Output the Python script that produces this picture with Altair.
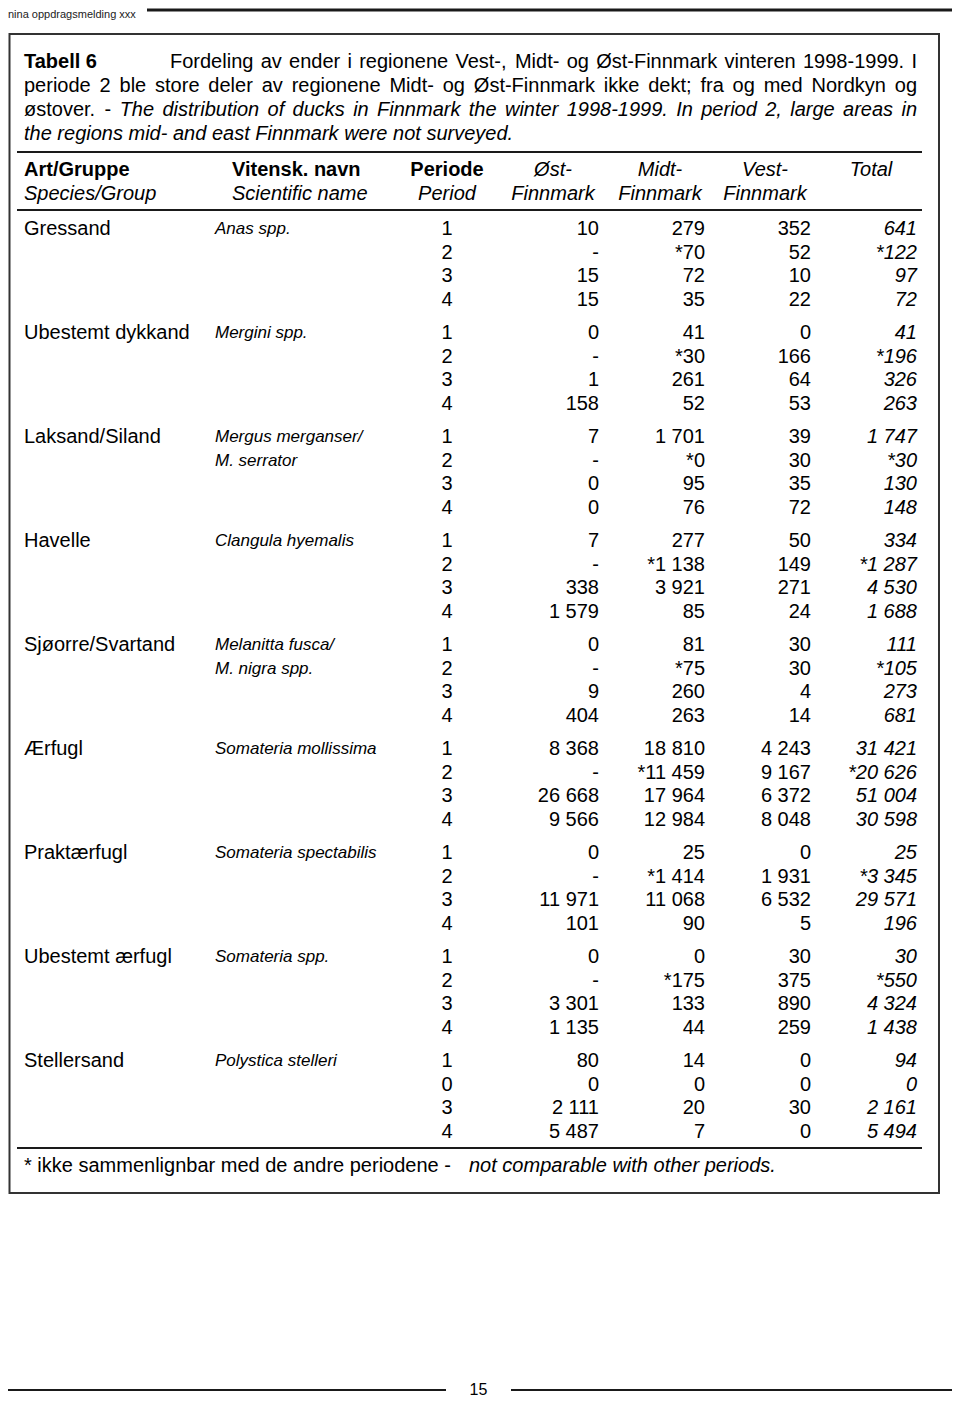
import altair as alt
import pandas as pd

# ---------------- data ----------------
groups = ["Gressand", "Ubestemt dykkand", "Laksand/Siland", "Havelle",
          "Sjøorre/Svartand", "Ærfugl", "Praktærfugl", "Ubestemt ærfugl", "Stellersand"]
sci_names = ["Anas spp.", "Mergini spp.", "Mergus merganser/\nM. serrator",
             "Clangula hyemalis", "Melanitta fusca/\nM. nigra spp.",
             "Somateria mollissima", "Somateria spectabilis", "Somateria spp.",
             "Polystica stelleri"]
periods = [["1", "2", "3", "4"]] * 8 + [["1", "0", "3", "4"]]
ost = [["10", "-", "15", "15"], ["0", "-", "1", "158"], ["7", "-", "0", "0"],
       ["7", "-", "338", "1 579"], ["0", "-", "9", "404"],
       ["8 368", "-", "26 668", "9 566"], ["0", "-", "11 971", "101"],
       ["0", "-", "3 301", "1 135"], ["80", "0", "2 111", "5 487"]]
midt = [["279", "*70", "72", "35"], ["41", "*30", "261", "52"],
        ["1 701", "*0", "95", "76"], ["277", "*1 138", "3 921", "85"],
        ["81", "*75", "260", "263"], ["18 810", "*11 459", "17 964", "12 984"],
        ["25", "*1 414", "11 068", "90"], ["0", "*175", "133", "44"],
        ["14", "0", "20", "7"]]
vest = [["352", "52", "10", "22"], ["0", "166", "64", "53"], ["39", "30", "35", "72"],
        ["50", "149", "271", "24"], ["30", "30", "4", "14"],
        ["4 243", "9 167", "6 372", "8 048"], ["0", "1 931", "6 532", "5"],
        ["30", "375", "890", "259"], ["0", "0", "30", "0"]]
total = [["641", "*122", "97", "72"], ["41", "*196", "326", "263"],
         ["1 747", "*30", "130", "148"], ["334", "*1 287", "4 530", "1 688"],
         ["111", "*105", "273", "681"], ["31 421", "*20 626", "51 004", "30 598"],
         ["25", "*3 345", "29 571", "196"], ["30", "*550", "4 324", "1 438"],
         ["94", "0", "2 161", "5 494"]]

page_header = "nina oppdragsmelding xxx"
caption_label = "Tabell 6"
caption_l1 = "Fordeling av ender i regionene Vest-, Midt- og Øst-Finnmark vinteren 1998-1999. I"
caption_l2 = "periode 2 ble store deler av regionene Midt- og Øst-Finnmark ikke dekt; fra og med Nordkyn og"
caption_l3 = "østover. - The distribution of ducks in Finnmark the winter 1998-1999. In period 2, large areas in"
caption_l3_regular_words = 2
caption_l4 = "the regions mid- and east Finnmark were not surveyed."
head_bold = ["Art/Gruppe", "Vitensk. navn"]
head_ital = ["Species/Group", "Scientific name"]
head_period = ["Periode", "Period"]
head_regions = [["Øst-", "Finnmark"], ["Midt-", "Finnmark"], ["Vest-", "Finnmark"], ["Total", ""]]
footnote_a = "* ikke sammenlignbar med de andre periodene -"
footnote_b = "not comparable with other periods."
page_number = "15"

# ---------------- layout ----------------
FONT = "Liberation Sans, Arial, Helvetica, sans-serif"
X_GROUP, X_SCI, X_PER = 24, 215, 447
X_NUM = [599, 705, 811, 917]
X_HEAD = [553, 660, 765, 871]
Y0, GROUP_STEP, ROW_STEP = 229, 104, 23.7
CAP_SIZE = 20
CAP_RIGHT = 917

# Arial / Liberation Sans advance widths (per 1000 em) for justification
W = {" ": 278, ",": 278, "-": 333, ".": 278, ";": 278, "/": 278,
     "A": 667, "B": 667, "C": 722, "D": 722, "E": 667, "F": 611, "G": 778, "H": 722,
     "I": 278, "J": 500, "K": 667, "L": 556, "M": 833, "N": 722, "O": 778, "P": 667,
     "R": 722, "S": 667, "T": 611, "U": 722, "V": 667, "W": 944, "Y": 667,
     "a": 556, "b": 556, "c": 500, "d": 556, "e": 556, "f": 278, "g": 556, "h": 556,
     "i": 222, "j": 222, "k": 500, "l": 222, "m": 833, "n": 556, "o": 556, "p": 556,
     "q": 556, "r": 333, "s": 500, "t": 278, "u": 556, "v": 500, "w": 722, "x": 500,
     "y": 500, "z": 500, "ø": 611, "Ø": 778, "æ": 889, "Æ": 1000}


def text_width(s, size):
    return sum(W.get(c, 556) for c in s) * size / 1000.0


def justify(line, left, right, y, size):
    words = line.split(" ")
    widths = [text_width(w, size) for w in words]
    gap = (right - left - sum(widths)) / max(len(words) - 1, 1)
    out, x = [], left
    for w, wd in zip(words, widths):
        out.append({"x": x, "y": y, "t": w})
        x += wd + gap
    return out


xs = alt.Scale(domain=[8, 952], zero=False, nice=False)
ys = alt.Scale(domain=[8, 1400], zero=False, nice=False, reverse=True)


def text_layer(rows, align="left", weight="normal", style="normal", size=20,
               baseline="middle", font=FONT, color="#000000"):
    df = pd.DataFrame(rows)
    return alt.Chart(df).mark_text(
        align=align, baseline=baseline, font=font, fontSize=size,
        fontWeight=weight, fontStyle=style, color=color
    ).encode(
        x=alt.X("x:Q", scale=xs, axis=None),
        y=alt.Y("y:Q", scale=ys, axis=None),
        text="t:N",
    )


group_rows, sci_rows, per_rows, num_rows, tot_rows = [], [], [], [], []
for g, name in enumerate(groups):
    yb = Y0 + g * GROUP_STEP
    group_rows.append({"x": X_GROUP, "y": yb, "t": name})
    for k, line in enumerate(sci_names[g].split("\n")):
        sci_rows.append({"x": X_SCI, "y": yb + k * ROW_STEP, "t": line})
    for r in range(4):
        y = yb + r * ROW_STEP
        per_rows.append({"x": X_PER, "y": y, "t": periods[g][r]})
        num_rows.append({"x": X_NUM[0], "y": y, "t": ost[g][r]})
        num_rows.append({"x": X_NUM[1], "y": y, "t": midt[g][r]})
        num_rows.append({"x": X_NUM[2], "y": y, "t": vest[g][r]})
        tot_rows.append({"x": X_NUM[3], "y": y, "t": total[g][r]})

layers = []

# rules (frame lines)
rules = pd.DataFrame([
    {"x": 147, "x2": 952, "y": 10, "y2": 10, "w": 3},
    {"x": 17, "x2": 922, "y": 152, "y2": 152, "w": 2},
    {"x": 17, "x2": 922, "y": 210, "y2": 210, "w": 2},
    {"x": 17, "x2": 922, "y": 1148, "y2": 1148, "w": 2},
    {"x": 8, "x2": 446, "y": 1390, "y2": 1390, "w": 2},
    {"x": 511, "x2": 952, "y": 1390, "y2": 1390, "w": 2},
])
layers.append(alt.Chart(rules).mark_rule(color="#1a1a1a").encode(
    x=alt.X("x:Q", scale=xs, axis=None), x2="x2:Q",
    y=alt.Y("y:Q", scale=ys, axis=None), y2="y2:Q",
    strokeWidth=alt.StrokeWidth("w:Q", scale=None),
))

box = pd.DataFrame([{"x": 9.5, "x2": 939, "y": 34, "y2": 1193}])
layers.append(alt.Chart(box).mark_rect(fill=None, stroke="#333333", strokeWidth=2).encode(
    x=alt.X("x:Q", scale=xs, axis=None), x2="x2:Q",
    y=alt.Y("y:Q", scale=ys, axis=None), y2="y2:Q",
))

# page header / number
layers.append(text_layer([{"x": 8, "y": 8.5, "t": page_header}], size=11,
                         baseline="top", color="#222222"))
layers.append(text_layer([{"x": 478.5, "y": 1390, "t": page_number}], align="center", size=16))

# caption (justified like the original)
layers.append(text_layer([{"x": 24, "y": 62, "t": caption_label}], weight="bold"))
cap_regular = justify(caption_l1, 170, CAP_RIGHT, 62, CAP_SIZE) + \
    justify(caption_l2, 24, CAP_RIGHT, 86, CAP_SIZE)
l3 = justify(caption_l3, 24, CAP_RIGHT, 110, CAP_SIZE)
cap_regular += l3[:caption_l3_regular_words]
cap_italic = l3[caption_l3_regular_words:] + [{"x": 24, "y": 134, "t": caption_l4}]
layers.append(text_layer(cap_regular, size=CAP_SIZE))
layers.append(text_layer(cap_italic, style="italic", size=CAP_SIZE))

# column headers
layers.append(text_layer([{"x": 24, "y": 170, "t": head_bold[0]},
                          {"x": 232, "y": 170, "t": head_bold[1]}], weight="bold"))
layers.append(text_layer([{"x": 24, "y": 194, "t": head_ital[0]},
                          {"x": 232, "y": 194, "t": head_ital[1]}], style="italic"))
layers.append(text_layer([{"x": X_PER, "y": 170, "t": head_period[0]}], align="center", weight="bold"))
layers.append(text_layer([{"x": X_PER, "y": 194, "t": head_period[1]}], align="center", style="italic"))
reg_rows = []
for i, (a, b) in enumerate(head_regions):
    reg_rows.append({"x": X_HEAD[i], "y": 170, "t": a})
    if b:
        reg_rows.append({"x": X_HEAD[i], "y": 194, "t": b})
layers.append(text_layer(reg_rows, align="center", style="italic"))

# body
layers.append(text_layer(group_rows))
layers.append(text_layer(sci_rows, style="italic", size=17))
layers.append(text_layer(per_rows, align="center"))
layers.append(text_layer(num_rows, align="right"))
layers.append(text_layer(tot_rows, align="right", style="italic"))

# footnote
layers.append(text_layer([{"x": 24, "y": 1166, "t": footnote_a}]))
layers.append(text_layer([{"x": 469, "y": 1166, "t": footnote_b}], style="italic"))

chart = alt.layer(*layers).properties(
    width=944, height=1392, padding=0, background="white",
    autosize=alt.AutoSizeParams(type="none")
).configure_view(stroke=None)

chart.save("out.html", embed_options={"renderer": "svg", "actions": False})
